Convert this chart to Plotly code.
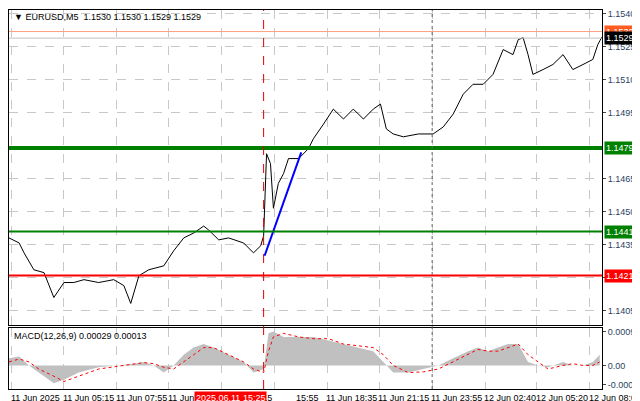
import plotly.graph_objects as go

# minutes since 11 Jun 2025 00:00
price_t = [147,178,193,223,254,284,315,345,376,421,467,498,519,544,574,620,650,681,711,742,757,788,818,864,894,916,925,
           934,946,955,970,986,1001,1032,1062,1077,1108,1138,1169,1199,1230,1260,1282,1300,1321,1352,1398,1443,1474,1504,
           1535,1565,1596,1626,1657,1687,1703,1718,1733,1748,1779,1809,1840,1870,1901,1931,1946,1959]
price_y = [230,235,245,262,265,290,275,275,272,275,272,278,296,268,262,258,243,230,225,218,222,232,230,235,245,238,228,
           145,155,200,175,165,150,150,140,130,115,100,110,100,110,100,95,120,125,128,125,125,118,105,
           85,75,75,65,40,45,30,28,45,65,60,55,45,60,55,50,35,27]
price = [round(1.1540 - (y - 4) * 0.0000451, 5) for y in price_y]

macd_t = [147,178,208,238,284,315,360,421,482,528,559,589,620,650,681,711,742,772,818,864,894,925,
          940,955,986,1032,1077,1123,1169,1214,1260,1291,1321,1367,1413,1459,1504,1550,1580,1611,1641,1672,1703,
          1733,1764,1794,1840,1870,1901,1931,1952]
macd_h = [0.0002,0.00025,0.0,-0.0002,-0.0005,-0.0004,-0.0002,-0.00005,0.0,0.00005,0.0001,0.0,-0.0002,0.0,0.0003,
          0.0005,0.0006,0.0005,0.0003,0.0001,-0.0002,-0.0001,0.0009,0.00095,0.0008,0.0008,0.0008,0.0007,0.0006,0.0005,
          0.0004,0.0001,-0.0002,-0.0002,-0.0001,0.0,0.0002,0.0004,0.0005,0.0004,0.0005,0.0006,0.0006,0.0001,0.0,
          -0.00005,0.0001,0.0,0.0,0.0001,0.0003]
macd_s = [0.0001,0.00018,0.0001,-0.0001,-0.0003,-0.00045,-0.0003,-0.0001,-0.00002,0.00004,0.00008,0.00005,-0.00005,
          -0.0001,0.0001,0.0003,0.0005,0.0005,0.0003,0.0001,-0.0001,-0.0002,0.0004,0.0008,0.0009,0.0008,0.00075,0.00075,
          0.0006,0.00055,0.0005,0.0003,0.0,-0.0002,-0.00018,-0.0001,0.0001,0.0003,0.00045,0.0004,0.0004,0.0005,0.0006,
          0.0003,0.0001,-0.0001,0.0,0.00005,0.0,0.0,0.0001]

tick_t = [156,315,476,635,797,958,1120,1279,1440,1602,1760,1922]
tick_lbl = ["11 Jun 2025","11 Jun 05:15","11 Jun 07:55","11 Jun 10:35","11 Jun 13:15","15:55","11 Jun 18:35",
            "11 Jun 21:15","11 Jun 23:55","12 Jun 02:40","12 Jun 05:20","12 Jun 08:00"]
y_ticks = [1.1405,1.1420,1.1435,1.1450,1.1465,1.1495,1.1510,1.1525,1.1540]
levels = [(1.1532,"#ff9f80",1,"#ff5a1f"),(1.1529,"#c0c0c0",1,"#000000"),(1.1479,"#008000",4,"#008000"),
          (1.1441,"#008000",2,"#008000"),(1.1421,"#ff0000",2,"#ff0000")]
red_t = 925
blue = ([928,1040],[1.1430,1.1477])

FONT = "Liberation Sans"
XR = [147, 1959]
fig = go.Figure()
fig.add_trace(go.Scatter(x=price_t, y=price, mode="lines", line=dict(color="black", width=1), xaxis="x", yaxis="y"))
fig.add_trace(go.Scatter(x=blue[0], y=blue[1], mode="lines", line=dict(color="#0000ff", width=2), xaxis="x", yaxis="y"))
fig.add_trace(go.Scatter(x=macd_t, y=macd_h, mode="lines", fill="tozeroy", fillcolor="#c0c0c0",
                         line=dict(color="#c0c0c0", width=0), xaxis="x2", yaxis="y2"))
fig.add_trace(go.Scatter(x=macd_t, y=macd_s, mode="lines", line=dict(color="red", width=1, dash="dot"),
                         xaxis="x2", yaxis="y2"))

shapes = []
for v, c, w, _ in levels:
    shapes.append(dict(type="line", xref="x", yref="y", x0=XR[0], x1=XR[1], y0=v, y1=v, line=dict(color=c, width=w)))
shapes.append(dict(type="line", xref="x", yref="paper", x0=red_t, x1=red_t, y0=0, y1=1,
                   line=dict(color="#e00000", width=1, dash="dash")))
shapes.append(dict(type="line", xref="x", yref="paper", x0=1440, x1=1440, y0=0, y1=1,
                   line=dict(color="#606060", width=1, dash="dot")))

ann = []
for v, _, _, bg in levels:
    ann.append(dict(xref="paper", yref="y", x=1.0, y=v, xanchor="left", text="%.4f" % v, showarrow=False,
                    bgcolor=bg, font=dict(color="white", size=9, family=FONT), borderpad=1, xshift=2))
for t, l in zip(tick_t, tick_lbl):
    xx = t + 70 if l == "15:55" else t
    ann.append(dict(xref="x", yref="paper", x=xx, y=-0.005, yanchor="top", xanchor="left", text=l, showarrow=False,
                    font=dict(size=9, family=FONT, color="black"), xshift=-3))
ann.append(dict(xref="x", yref="paper", x=red_t, y=-0.005, yanchor="top", xanchor="right", text="2025.06.11 15:25",
                showarrow=False, bgcolor="#ff0000", font=dict(size=9, family=FONT, color="white"), xshift=3))
ann.append(dict(xref="paper", yref="paper", x=0.005, y=1.0, xanchor="left", yanchor="top",
                text="▼ EURUSD,M5  1.1530 1.1530 1.1529 1.1529", showarrow=False,
                font=dict(size=9, family=FONT, color="black")))
ann.append(dict(xref="paper", yref="paper", x=0.005, y=0.158, xanchor="left", yanchor="top",
                text="MACD(12,26,9) 0.00029 0.00013", showarrow=False,
                font=dict(size=9, family=FONT, color="black")))

ax = dict(range=XR, tickvals=tick_t, showticklabels=False, showgrid=True, gridcolor="#c8c8c8", griddash="dash",
          zeroline=False, showline=True, mirror=True, linecolor="black", ticks="", automargin=False)
fig.update_layout(
    width=640, height=401, margin=dict(l=1, r=46, t=2, b=20), plot_bgcolor="white", paper_bgcolor="white",
    showlegend=False, shapes=shapes, annotations=ann,
    xaxis=dict(ax, domain=[0, 1], anchor="y"),
    xaxis2=dict(ax, domain=[0, 1], anchor="y2", matches="x"),
    yaxis=dict(domain=[0.169, 1], range=[1.13985, 1.15418], side="right", tickvals=y_ticks,
               ticktext=["%.4f" % v for v in y_ticks], automargin=False,
               showgrid=True, gridcolor="#c8c8c8", griddash="dash", zeroline=False, showline=True, mirror=True,
               linecolor="black", ticks="outside", ticklen=3, tickfont=dict(size=9, family=FONT)),
    yaxis2=dict(domain=[0, 0.161], range=[-0.00066, 0.00105], side="right", tickvals=[-0.00053, 0, 0.00095],
                ticktext=["-0.00053", "0.00", "0.00095"], showgrid=False, zeroline=False, showline=True, mirror=True,
                automargin=False,
                linecolor="black", ticks="outside", ticklen=3, tickfont=dict(size=9, family=FONT)),
)
fig.write_html("out.html")
